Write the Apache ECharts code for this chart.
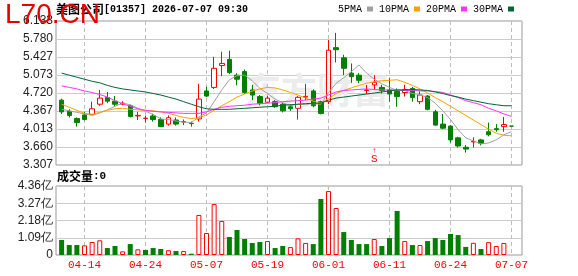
<!DOCTYPE html>
<html>
<head>
<meta charset="utf-8">
<script src="https://cdn.jsdelivr.net/npm/echarts@6/dist/echarts.min.js"></script>
<style>
  html, body { margin: 0; padding: 0; background: #fff; }
  #chart { width: 578px; height: 276px; }
</style>
</head>
<body>
<div id="chart"></div>
<script>
// trading days shown on the chart
const dates = [
  "04-09", "04-10", "04-13", "04-14", "04-15", "04-16", "04-17", "04-20", "04-21", "04-22",
  "04-23", "04-24", "04-27", "04-28", "04-29", "04-30", "05-04", "05-05", "05-06", "05-07",
  "05-08", "05-11", "05-12", "05-13", "05-14", "05-15", "05-18", "05-19", "05-20", "05-21",
  "05-22", "05-26", "05-27", "05-28", "05-29", "06-01", "06-02", "06-03", "06-04", "06-05",
  "06-08", "06-09", "06-10", "06-11", "06-12", "06-15", "06-16", "06-17", "06-18", "06-22",
  "06-23", "06-24", "06-25", "06-26", "06-29", "06-30", "07-02", "07-03", "07-06", "07-07",
];

// [open, close, low, high]
const ohlc = [
  [4.58, 4.35, 4.31, 4.61], [4.36, 4.28, 4.24, 4.40], [4.22, 4.14, 4.06, 4.24], [4.29, 4.20, 4.18, 4.35],
  [4.30, 4.41, 4.29, 4.55], [4.50, 4.62, 4.47, 4.78], [4.63, 4.56, 4.52, 4.74], [4.56, 4.50, 4.46, 4.66],
  [4.50, 4.52, 4.48, 4.56], [4.47, 4.26, 4.24, 4.49], [4.27, 4.28, 4.19, 4.35], [4.22, 4.225, 4.14, 4.27],
  [4.27, 4.20, 4.16, 4.31], [4.20, 4.06, 4.05, 4.24], [4.11, 4.235, 4.08, 4.28], [4.19, 4.11, 4.08, 4.24],
  [4.15, 4.16, 4.09, 4.20], [4.12, 4.125, 4.06, 4.16], [4.21, 4.60, 4.16, 4.90], [4.76, 4.66, 4.64, 4.84],
  [4.83, 5.205, 4.80, 5.43], [5.26, 5.30, 5.05, 5.53], [5.38, 5.12, 5.09, 5.55], [5.07, 4.99, 4.87, 5.11],
  [5.14, 4.73, 4.70, 5.18], [4.78, 4.68, 4.58, 4.88], [4.65, 4.52, 4.48, 4.68], [4.54, 4.62, 4.52, 4.67],
  [4.55, 4.45, 4.43, 4.58], [4.50, 4.37, 4.34, 4.53], [4.45, 4.41, 4.37, 4.50], [4.42, 4.636, 4.20, 4.66],
  [4.64, 4.655, 4.58, 4.90], [4.76, 4.47, 4.44, 4.79], [4.55, 4.32, 4.30, 4.57], [4.55, 5.56, 4.50, 5.76],
  [5.61, 5.57, 5.32, 5.90], [5.41, 5.205, 5.07, 5.47], [5.11, 5.04, 4.92, 5.30], [5.07, 4.97, 4.91, 5.11],
  [4.77, 4.78, 4.70, 4.88], [4.88, 4.93, 4.78, 5.07], [4.83, 4.77, 4.71, 4.88], [4.78, 4.70, 4.55, 5.01],
  [4.75, 4.65, 4.45, 4.81], [4.73, 4.79, 4.65, 4.88], [4.81, 4.63, 4.55, 4.84], [4.55, 4.68, 4.50, 4.75],
  [4.66, 4.40, 4.38, 4.68], [4.35, 4.09, 4.08, 4.39], [4.11, 4.03, 4.01, 4.31], [4.07, 3.80, 3.75, 4.09],
  [3.84, 3.68, 3.65, 3.86], [3.655, 3.62, 3.55, 3.70], [3.76, 3.77, 3.65, 3.85], [3.80, 3.73, 3.69, 3.82],
  [3.96, 3.90, 3.87, 4.14], [4.02, 4.00, 3.96, 4.11], [4.06, 4.10, 3.96, 4.25], [4.07, 4.07, 4.07, 4.07],
];

// volume in 亿
const volumes = [
  0.95, 0.63, 0.63, 0.61, 0.82, 0.93, 0.44, 0.57, 0.23, 0.69,
  0.36, 0.32, 0.44, 0.38, 0.30, 0.25, 0.25, 0.08, 2.53, 1.39,
  3.22, 2.15, 1.14, 1.58, 1.01, 0.76, 0.82, 0.88, 0.44, 0.57,
  0.50, 1.05, 0.76, 0.69, 3.54, 4.04, 2.97, 1.45, 0.95, 0.69,
  0.69, 1.01, 0.57, 1.07, 2.78, 0.88, 0.63, 0.63, 0.88, 1.07,
  0.95, 1.33, 1.26, 0.51, 0.77, 0.38, 0.81, 0.57, 0.76, 0,
];

const ma5 = [
  4.40, 4.37, 4.34, 4.31, 4.28, 4.33, 4.39, 4.46, 4.52, 4.49,
  4.42, 4.36, 4.30, 4.21, 4.20, 4.17, 4.15, 4.14, 4.25, 4.33,
  4.55, 4.78, 4.98, 5.06, 5.07, 4.96, 4.81, 4.71, 4.60, 4.53,
  4.47, 4.50, 4.50, 4.51, 4.50, 4.73, 4.91, 5.02, 5.14, 5.27,
  5.11, 4.99, 4.90, 4.83, 4.77, 4.77, 4.71, 4.69, 4.63, 4.52,
  4.37, 4.20, 4.00, 3.84, 3.78, 3.72, 3.74, 3.80, 3.90, 3.96,
];
const ma10 = [
  4.50, 4.44, 4.38, 4.32, 4.30, 4.34, 4.38, 4.41, 4.42, 4.40,
  4.39, 4.38, 4.37, 4.35, 4.32, 4.28, 4.24, 4.22, 4.23, 4.29,
  4.38, 4.47, 4.55, 4.64, 4.70, 4.76, 4.80, 4.83, 4.82, 4.78,
  4.73, 4.68, 4.62, 4.56, 4.52, 4.61, 4.71, 4.77, 4.82, 4.87,
  4.91, 4.94, 4.96, 4.97, 4.98, 4.93, 4.87, 4.80, 4.72, 4.63,
  4.55, 4.46, 4.37, 4.28, 4.19, 4.10, 4.01, 3.93, 3.89, 3.88,
];
const ma20 = [
  4.86, 4.83, 4.80, 4.76, 4.73, 4.69, 4.64, 4.57, 4.51, 4.46,
  4.41, 4.38, 4.36, 4.35, 4.34, 4.33, 4.32, 4.32, 4.32, 4.35,
  4.40, 4.44, 4.46, 4.47, 4.48, 4.50, 4.51, 4.52, 4.53, 4.55,
  4.56, 4.57, 4.58, 4.60, 4.62, 4.68, 4.74, 4.77, 4.78, 4.79,
  4.80, 4.79, 4.78, 4.78, 4.78, 4.77, 4.77, 4.76, 4.76, 4.75,
  4.73, 4.68, 4.63, 4.57, 4.53, 4.49, 4.42, 4.37, 4.31, 4.26,
];
const ma30 = [
  5.11, 5.07, 5.03, 4.99, 4.95, 4.92, 4.87, 4.83, 4.80, 4.78,
  4.76, 4.74, 4.71, 4.68, 4.64, 4.60, 4.55, 4.50, 4.45, 4.41,
  4.40, 4.40, 4.40, 4.41, 4.42, 4.43, 4.44, 4.45, 4.46, 4.48,
  4.49, 4.50, 4.51, 4.52, 4.52, 4.58, 4.62, 4.64, 4.66, 4.68,
  4.70, 4.72, 4.74, 4.76, 4.78, 4.78, 4.79, 4.78, 4.77, 4.74,
  4.71, 4.67, 4.64, 4.60, 4.57, 4.54, 4.51, 4.49, 4.47, 4.47,
];

const priceTicks = ["3.307", "3.660", "4.013", "4.367", "4.720", "5.073", "5.427", "5.780", "6.133"];
const volTicks = ["0", "1.09亿", "2.18亿", "3.27亿", "4.36亿"];
const priceMin = 3.307;
const priceMax = 6.133;
const volMax = 4.36;
const signalDate = "06-09";

const UP = "#ff0000";
const DOWN = "#008000";
const GRID_LINE = "#cccccc";
const DASH_LINE = "#bdbdbd";
const FRAME = "#999999";
const showDate = (i) => i % 8 === 3;
const labelDates = dates.filter((_, i) => showDate(i));

const step = 61 / 8;
const plotLeft = 84.5 - 3 * step;
const plotWidth = step * (dates.length - 1);

const volData = volumes.map((v, i) => {
  const prev = i > 0 ? ohlc[i - 1][1] : ohlc[i][0];
  const up = ohlc[i][1] >= prev;
  return {
    value: v,
    itemStyle: up
      ? { color: "#fff", borderColor: UP, borderWidth: 1 }
      : { color: DOWN, borderColor: DOWN, borderWidth: 0 },
  };
});

const maLine = (name, data, color) => ({
  name,
  type: "line",
  xAxisIndex: 0,
  yAxisIndex: 0,
  data,
  symbol: "none",
  smooth: false,
  itemStyle: { color },
  lineStyle: { color, width: 1 },
  z: 3,
});

// dashed separators at the labelled dates, snapped to the pixel grid
const dateLines = (axisIndex, lo, hi) => ({
  type: "custom",
  xAxisIndex: axisIndex,
  yAxisIndex: axisIndex,
  silent: true,
  z: 1,
  data: labelDates.map((d) => [d, lo]),
  encode: { x: 0, y: 1 },
  renderItem: (params, api) => {
    const a = api.coord([api.value(0), hi]);
    const b = api.coord([api.value(0), lo]);
    const x = Math.floor(a[0]) + 0.5;
    return {
      type: "line",
      shape: { x1: x, y1: Math.round(a[1]), x2: x, y2: Math.round(b[1]) },
      style: { stroke: DASH_LINE, lineWidth: 1, lineDash: [4, 3] },
    };
  },
});

const labelFont = { color: "#222", fontFamily: "Liberation Sans", fontSize: 12 };

const chart = echarts.init(document.getElementById("chart"));
chart.setOption({
  animation: false,
  backgroundColor: "#fff",
  title: [
    {
      text: "{c|美图公司}{a|[01357] 2026-07-07 09:30}",
      left: 56,
      top: 3,
      padding: 0,
      textStyle: {
        rich: {
          c: { fontFamily: "Noto Sans CJK SC", fontSize: 12, color: "#000" },
          a: { fontFamily: "Liberation Mono", fontSize: 10, color: "#000" },
        },
      },
    },
    {
      text: "L70.CN",
      left: 5,
      top: 1,
      padding: 0,
      z: 10,
      textStyle: { color: "#e60000", fontFamily: "Liberation Sans", fontSize: 28, fontWeight: "normal" },
    },
    {
      text: "东方财富",
      left: 245,
      top: 72,
      padding: 0,
      z: 1,
      textStyle: { color: "#ececec", fontFamily: "Noto Sans CJK SC", fontSize: 36, fontWeight: "bold" },
    },
    {
      text: "{c|成交量}{a|:0}",
      left: 57,
      top: 170,
      padding: 0,
      textStyle: {
        rich: {
          c: { fontFamily: "Noto Sans CJK SC", fontSize: 12, color: "#000" },
          a: { fontFamily: "Liberation Mono", fontSize: 11, color: "#000" },
        },
      },
    },
  ],
  legend: {
    data: ["5PMA", "10PMA", "20PMA", "30PMA"],
    left: 338,
    top: 4,
    padding: 0,
    align: "right",
    icon: "rect",
    itemWidth: 6,
    itemHeight: 5,
    itemGap: 6,
    selectedMode: false,
    textStyle: { fontFamily: "Liberation Mono", fontSize: 10, color: "#000" },
  },
  grid: [
    { left: plotLeft, top: 21, width: plotWidth, height: 144 },
    { left: 56, top: 21, right: 56, height: 144, show: true, borderColor: FRAME, borderWidth: 1, backgroundColor: "transparent" },
    { left: plotLeft, top: 186, width: plotWidth, height: 69 },
    { left: 56, top: 186, right: 56, height: 69, show: true, borderColor: FRAME, borderWidth: 1, backgroundColor: "transparent" },
  ],
  xAxis: [
    {
      gridIndex: 0,
      type: "category",
      data: dates,
      boundaryGap: false,
      axisLine: { show: false },
      axisTick: { show: false },
      axisLabel: { show: false },
      splitLine: { show: false },
    },
    { gridIndex: 1, type: "value", min: 0, max: 1, show: false },
    {
      gridIndex: 2,
      type: "category",
      data: dates,
      boundaryGap: false,
      axisLine: { show: false },
      axisTick: { show: false },
      axisLabel: {
        interval: showDate,
        color: "#ff0000",
        fontFamily: "Liberation Mono",
        fontSize: 11,
        margin: 5,
      },
      splitLine: { show: false },
    },
    { gridIndex: 3, type: "value", min: 0, max: 1, show: false },
  ],
  yAxis: [
    { gridIndex: 0, type: "value", min: priceMin, max: priceMax, show: false },
    {
      gridIndex: 1,
      type: "value",
      min: 0,
      max: priceTicks.length - 1,
      interval: 1,
      axisLine: { show: false },
      axisTick: { show: false },
      axisLabel: { ...labelFont, margin: 3, formatter: (v) => priceTicks[v] },
      splitLine: { show: true, lineStyle: { color: GRID_LINE } },
    },
    { gridIndex: 2, type: "value", min: 0, max: volMax, show: false },
    {
      gridIndex: 3,
      type: "value",
      min: 0,
      max: volTicks.length - 1,
      interval: 1,
      axisLine: { show: false },
      axisTick: { show: false },
      axisLabel: { ...labelFont, margin: 3, formatter: (v) => volTicks[v] },
      splitLine: { show: true, lineStyle: { color: GRID_LINE } },
    },
  ],
  series: [
    dateLines(0, priceMin, priceMax),
    dateLines(2, 0, volMax),
    {
      name: "K",
      type: "candlestick",
      xAxisIndex: 0,
      yAxisIndex: 0,
      data: ohlc,
      barWidth: 5,
      clip: false,
      z: 2,
      itemStyle: {
        color: "#fff",
        color0: DOWN,
        borderColor: UP,
        borderColor0: DOWN,
        borderWidth: 1,
      },
      markPoint: {
        symbol: "circle",
        symbolSize: 1,
        itemStyle: { color: "transparent" },
        label: {
          show: true,
          position: "top",
          distance: 0,
          formatter: "{a|↑}\n{b|S}",
          rich: {
            a: { color: "#ff0000", fontSize: 8, lineHeight: 7, align: "center" },
            b: { color: "#ff0000", fontSize: 11, lineHeight: 10, fontFamily: "Liberation Mono", align: "center" },
          },
        },
        data: [{ coord: [signalDate, priceMin] }],
      },
    },
    maLine("5PMA", ma5, "#a0a0a0"),
    maLine("10PMA", ma10, "#f5a300"),
    maLine("20PMA", ma20, "#ff33ff"),
    maLine("30PMA", ma30, "#006633"),
    {
      name: "成交量",
      type: "bar",
      xAxisIndex: 2,
      yAxisIndex: 2,
      data: volData,
      barWidth: 5,
      clip: false,
      z: 2,
    },
  ],
});
</script>
</body>
</html>
